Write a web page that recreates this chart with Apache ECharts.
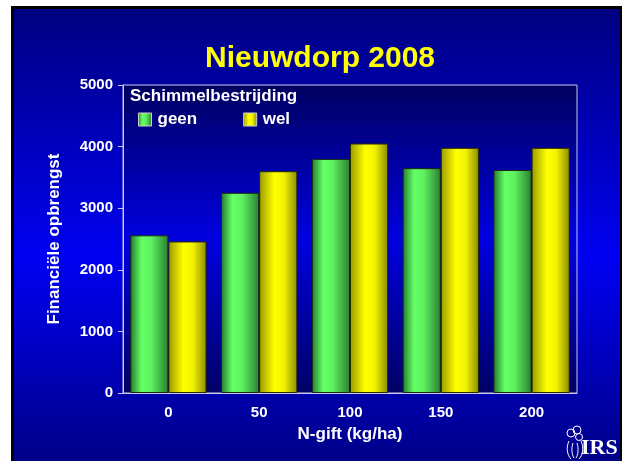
<!DOCTYPE html>
<html>
<head>
<meta charset="utf-8">
<script src="https://cdn.jsdelivr.net/npm/echarts@6/dist/echarts.min.js"></script>
<style>
  html, body { margin: 0; padding: 0; background: #ffffff; }
  #chart { width: 622px; height: 461px; }
</style>
</head>
<body>
<div id="chart"></div>
<script>
// data
const categories = ['0', '50', '100', '150', '200'];
const seriesNames = ['geen', 'wel'];
const geenValues = [2560, 3250, 3800, 3650, 3620];
const welValues = [2460, 3600, 4050, 3980, 3980];
const yTicks = { min: 0, max: 5000, interval: 1000 };

const chartDom = document.getElementById('chart');
const myChart = echarts.init(chartDom, null, { renderer: 'canvas' });

const font = 'Liberation Sans, Arial, Helvetica, sans-serif';

function barGrad(stops) {
  return new echarts.graphic.LinearGradient(0, 0, 1, 0, stops.map(function (c) {
    return { offset: c[0], color: c[1] };
  }));
}
const greenFill = barGrad([[0, '#237a2c'], [0.3, '#66ff66'], [0.55, '#5ef25e'], [1, '#2a7e32']]);
const yellowFill = barGrad([[0, '#9a9a00'], [0.4, '#ffff00'], [0.65, '#f2f200'], [1, '#8a8a00']]);

const logoLine = { fill: 'none', stroke: '#ffffff', lineWidth: 1 };
function curve(x1, y1, cx1, cy1, cx2, cy2, x2, y2) {
  return { type: 'bezierCurve', shape: { x1: x1, y1: y1, cpx1: cx1, cpy1: cy1, cpx2: cx2, cpy2: cy2, x2: x2, y2: y2 }, style: logoLine };
}

let option = {
  backgroundColor: 'transparent',
  animation: false,
  graphic: [
    { type: 'rect', z: -20, silent: true, shape: { x: 11, y: 6, width: 611, height: 455 }, style: { fill: '#000000' } },
    { type: 'rect', z: -19, silent: true, shape: { x: 14, y: 9, width: 606, height: 452 },
      style: { fill: new echarts.graphic.LinearGradient(0, 0, 0, 1, [
        { offset: 0, color: '#000080' },
        { offset: 0.55, color: '#0000f2' },
        { offset: 1, color: '#000088' }
      ]) } },
    // IRS logo
    { type: 'group', x: 565, y: 426, children: [
      { type: 'circle', shape: { cx: 6, cy: 7, r: 4 }, style: logoLine },
      { type: 'circle', shape: { cx: 12, cy: 4, r: 4 }, style: logoLine },
      { type: 'circle', shape: { cx: 14, cy: 11, r: 3.5 }, style: logoLine },
      curve(4, 15, 1, 21, 2, 29, 6, 33),
      curve(16, 15, 19, 21, 18, 29, 14, 33),
      curve(8, 17, 6, 23, 7, 29, 9, 32),
      curve(12, 17, 14, 23, 13, 29, 11, 32),
      { type: 'text', style: { x: 16, y: 11, text: 'IRS', fill: '#ffffff', font: 'bold 22px "Liberation Serif", "DejaVu Serif", serif' } }
    ] }
  ],
  title: [
    {
      text: 'Nieuwdorp 2008',
      left: 315,
      textAlign: 'center',
      top: 39,
      textStyle: { color: '#ffff00', fontSize: 30, fontWeight: 'bold', fontFamily: font }
    },
    {
      text: 'Schimmelbestrijding',
      left: 130,
      top: 88,
      padding: 0,
      textStyle: { color: '#ffffff', fontSize: 17, fontWeight: 'bold', fontFamily: font }
    }
  ],
  legend: {
    data: seriesNames,
    left: 138,
    top: 111,
    padding: 0,
    orient: 'horizontal',
    itemWidth: 13,
    itemHeight: 13,
    itemGap: 46,
    icon: 'rect',
    itemStyle: { borderColor: '#d0d0d0', borderWidth: 1 },
    textStyle: { color: '#ffffff', fontSize: 17, fontWeight: 'bold', fontFamily: font, padding: [0, 0, 0, 1] }
  },
  grid: {
    left: 123,
    right: 45,
    top: 85,
    bottom: 68,
    show: true,
    borderColor: '#c8c8ec',
    borderWidth: 1,
    backgroundColor: new echarts.graphic.LinearGradient(0, 0, 0, 1, [
      { offset: 0, color: '#000060' },
      { offset: 0.5, color: '#0000e0' },
      { offset: 1, color: '#000066' }
    ])
  },
  xAxis: {
    type: 'category',
    data: categories,
    name: 'N-gift (kg/ha)',
    nameLocation: 'middle',
    nameGap: 33,
    nameTextStyle: { color: '#ffffff', fontSize: 17, fontWeight: 'bold', fontFamily: font },
    axisLine: { lineStyle: { color: '#c8c8ec', width: 1 } },
    axisTick: { alignWithLabel: true, length: 5, lineStyle: { color: '#c8c8ec' } },
    axisLabel: { color: '#ffffff', fontSize: 15, fontWeight: 'bold', fontFamily: font, margin: 12 },
    splitLine: { show: false }
  },
  yAxis: {
    type: 'value',
    min: yTicks.min,
    max: yTicks.max,
    interval: yTicks.interval,
    name: 'Financiële opbrengst',
    nameLocation: 'middle',
    nameGap: 60,
    nameTextStyle: { color: '#ffffff', fontSize: 17, fontWeight: 'bold', fontFamily: font },
    axisLine: { show: true, lineStyle: { color: '#c8c8ec', width: 1 } },
    axisTick: { show: true, length: 5, lineStyle: { color: '#c8c8ec' } },
    axisLabel: {
      color: '#ffffff', fontSize: 15, fontWeight: 'bold', fontFamily: font, margin: 10,
      formatter: function (v) { return String(v); }
    },
    splitLine: { show: false }
  },
  series: [
    {
      name: seriesNames[0],
      type: 'bar',
      data: geenValues,
      barGap: '0%',
      barCategoryGap: '16%',
      itemStyle: { color: greenFill, borderColor: '#1a2a10', borderWidth: 1 }
    },
    {
      name: seriesNames[1],
      type: 'bar',
      data: welValues,
      itemStyle: { color: yellowFill, borderColor: '#2a2a00', borderWidth: 1 }
    }
  ]
};

option && myChart.setOption(option);
</script>
</body>
</html>
